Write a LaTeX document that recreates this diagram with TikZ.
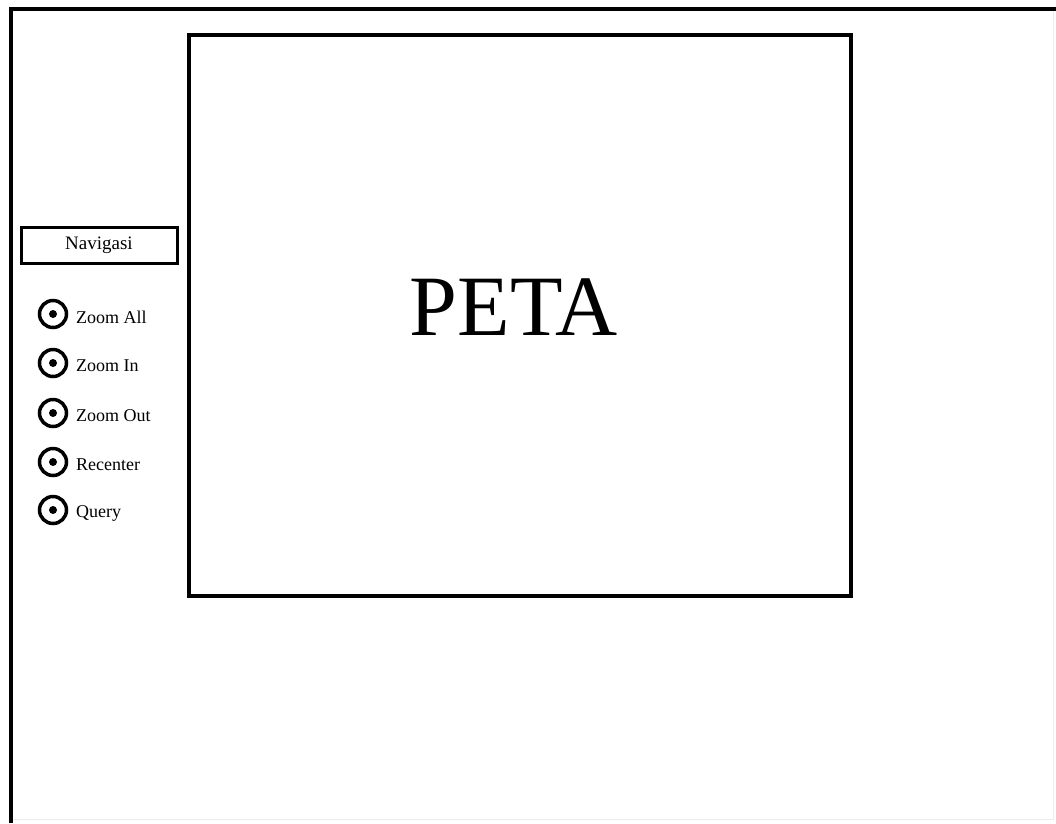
\documentclass[tikz,border=0pt]{standalone}
\usepackage{fontspec}
\setmainfont{Liberation Serif}
\begin{document}
\begin{tikzpicture}[x=1pt,y=-1pt,
  frame/.style={line width=4pt},
  mapbox/.style={draw,line width=3.5pt},
  navbox/.style={draw,line width=3pt,minimum width=156pt,minimum height=36pt,inner sep=0pt,font=\fontsize{19}{19}\selectfont},
  radio/.style={circle,draw,line width=3.5pt,minimum size=27pt,inner sep=0pt},
  dot/.style={circle,fill,minimum size=8pt,inner sep=0pt},
  lbl/.style={anchor=west,inner sep=0pt,font=\fontsize{18}{18}\selectfont}]
\useasboundingbox (0,0) rectangle (1056,823);
\fill[white] (0,0) rectangle (1056,823);
% outer frame
\draw[gray!15,line width=1pt] (1053,9) -- (1053,819) -- (11,819);
\draw[frame] (11,823) -- (11,9) -- (1056,9);
% map
\node[mapbox,minimum width=662pt,minimum height=561pt,inner sep=0pt] (map) at (520,315.5) {};
\node[font=\fontsize{86}{86}\selectfont,inner sep=0pt] (peta) at (514,307) {PETA};
% navigation
\node[navbox] (nav) at (99,245.5) {Navigasi};
\foreach \n/\y/\t in {a/314/Zoom All,b/363/Zoom In,c/413/Zoom Out,d/462/Recenter,e/510/Query}{
  \node[radio] (r\n) at (53,\y) {};
  \node[dot] (d\n) at (r\n) {};
  \node[lbl] (t\n) at (76,\y+3) {\t};
}
\end{tikzpicture}
\end{document}
